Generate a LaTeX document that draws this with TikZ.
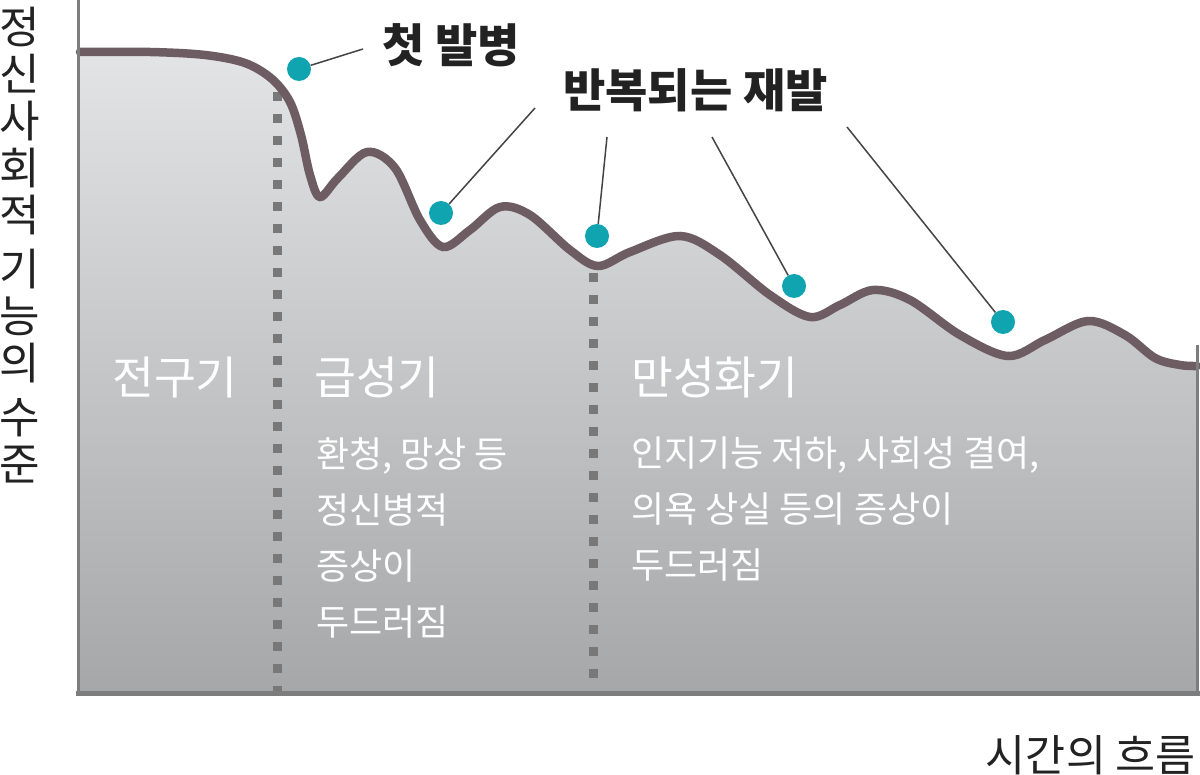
\documentclass[tikz,border=0pt]{standalone}
\usepackage{fontspec}
\setmainfont{Noto Sans CJK KR}
\definecolor{relapse}{HTML}{10A3B0}
\definecolor{course}{HTML}{6D5C61}
\definecolor{fillhi}{HTML}{E3E4E5}
\definecolor{filllo}{HTML}{A6A7A9}
\definecolor{axisgray}{HTML}{7D7D7D}
\definecolor{divgray}{HTML}{787878}
\definecolor{leadergray}{HTML}{444444}
\definecolor{titleblack}{HTML}{222222}

\begin{document}
\begin{tikzpicture}[x=1pt, y=-1pt,
    dot/.style={circle, fill=relapse, inner sep=0pt, minimum size=24pt},
    leader/.style={draw=leadergray, line width=1.5pt},
    title/.style={anchor=north west, inner sep=0pt, text=titleblack, font=\fontsize{46}{54}\selectfont\bfseries},
    phase/.style={anchor=north west, inner sep=0pt, text=white, font=\fontsize{45.5}{54}\selectfont},
    note/.style={anchor=north west, inner sep=0pt, text=white, align=left, font=\fontsize{36}{56}\selectfont},
    divider/.style={draw=divgray, line width=9pt, dash pattern=on 9pt off 13pt}]

    \fill[white] (0,0) rectangle (1200,775);
    \useasboundingbox (0,0) rectangle (1200,775);

    \shade[top color=fillhi, bottom color=filllo] (80,693) -- plot[smooth, tension=0.55] coordinates {
        (80,52) (150,52) (205,55) (245,63) (272,79) (290,102) (301,135) (310,175) (320,197)
        (338,178) (367,152) (395,168) (420,220) (443,247) (470,230) (500,207) (530,215)
        (570,250) (598,266) (630,252) (680,236) (720,255) (770,295) (810,317) (840,305)
        (873,290) (910,300) (960,335) (1008,356) (1045,340) (1088,321) (1125,335)
        (1155,358) (1180,365) (1197,366)} -- (1197,693) -- cycle;

    \draw[divider] (277,92) -- (277,693);
    \draw[divider] (593,273) -- (593,693);

    \draw[course, line width=8.5pt, line cap=round] plot[smooth, tension=0.55] coordinates {
        (80,52) (150,52) (205,55) (245,63) (272,79) (290,102) (301,135) (310,175) (320,197)
        (338,178) (367,152) (395,168) (420,220) (443,247) (470,230) (500,207) (530,215)
        (570,250) (598,266) (630,252) (680,236) (720,255) (770,295) (810,317) (840,305)
        (873,290) (910,300) (960,335) (1008,356) (1045,340) (1088,321) (1125,335)
        (1155,358) (1180,365) (1197,366)};

    \draw[axisgray, line width=3pt] (78,0) -- (78,694);
    \draw[axisgray, line width=5pt] (76,693) -- (1200,693);
    \draw[axisgray, line width=3pt] (1197,345) -- (1197,693);

    \node[dot] (d1) at (299,69) {};
    \node[dot] (d2) at (441,213) {};
    \node[dot] (d3) at (597,236) {};
    \node[dot] (d4) at (794,286) {};
    \node[dot] (d5) at (1003,322) {};

    \node[title] (onset) at (382,23) {첫 발병};
    \node[title] (relapses) at (563,68) {반복되는 재발};

    \coordinate (l0) at (363,49);
    \coordinate (l1) at (535,108);
    \coordinate (l2) at (607,137);
    \coordinate (l3) at (712,137);
    \coordinate (l4) at (847,127);

    \draw[leader] (l0) -- (d1);
    \draw[leader] (l1) -- (d2);
    \draw[leader] (l2) -- (d3);
    \draw[leader] (l3) -- (d4);
    \draw[leader] (l4) -- (d5);

    \node[phase] (prodrome) at (112,357) {전구기};
    \node[phase] (acute) at (314,357) {급성기};
    \node[phase] (chronic) at (631,357) {만성화기};

    \node[note] (acutenote) at (316,437) {환청, 망상 등\\정신병적\\증상이\\두드러짐};
    \node[note] (chronicnote) at (631,437) {인지기능 저하, 사회성 결여,\\의욕 상실 등의 증상이\\두드러짐};

    \node[anchor=north, inner sep=0pt, text=titleblack, align=center,
        font=\fontsize{44}{47}\selectfont] (level) at (20,7)
        {정\\신\\사\\회\\적\\[7pt]기\\능\\의\\[7pt]수\\준};
    \node[anchor=north east, inner sep=0pt, text=titleblack,
        font=\fontsize{43.5}{50}\selectfont] (time) at (1196,735) {시간의 흐름};

\end{tikzpicture}
\end{document}
